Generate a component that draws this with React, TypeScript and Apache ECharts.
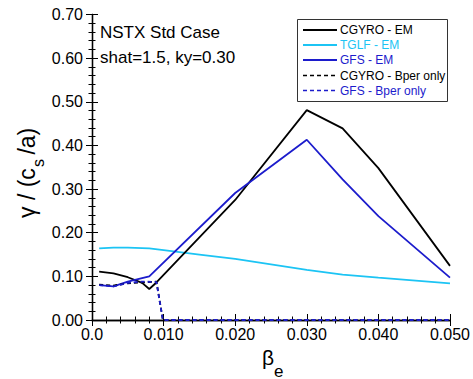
import React, { useEffect, useRef } from "react";
import * as echarts from "echarts";

const cgyroEmBeta = [0.001, 0.003, 0.005, 0.007, 0.008, 0.009, 0.02, 0.03, 0.035, 0.04, 0.05];
const cgyroEmGamma = [0.111, 0.107, 0.098, 0.085, 0.071, 0.086, 0.275, 0.481, 0.439, 0.348, 0.124];

const tglfEmBeta = [0.001, 0.003, 0.005, 0.008, 0.01, 0.015, 0.02, 0.03, 0.035, 0.04, 0.05];
const tglfEmGamma = [0.164, 0.166, 0.166, 0.164, 0.16, 0.15, 0.14, 0.115, 0.104, 0.097, 0.084];

const gfsEmBeta = [0.001, 0.003, 0.005, 0.008, 0.02, 0.03, 0.035, 0.04, 0.05];
const gfsEmGamma = [0.08, 0.077, 0.088, 0.1, 0.291, 0.413, 0.322, 0.238, 0.097];

const cgyroBperBeta = [0.001, 0.003, 0.005, 0.007, 0.009, 0.0099, 0.05];
const cgyroBperGamma = [0.081, 0.079, 0.084, 0.086, 0.088, 0.0, 0.0];

const gfsBperBeta = [0.001, 0.003, 0.005, 0.007, 0.009, 0.0099, 0.05];
const gfsBperGamma = [0.08, 0.077, 0.085, 0.088, 0.087, 0.0, 0.0];

const seriesNames = ["CGYRO - EM", "TGLF - EM", "GFS - EM", "CGYRO - Bper only", "GFS - Bper only"];
const seriesColors = ["#000000", "#1cc4f4", "#1c1ccc", "#000000", "#1c1ccc"];
const seriesDashed = [false, false, false, true, true];

const FONT = "Liberation Sans, Arial, Helvetica, sans-serif";

function pairs(xs: number[], ys: number[]) {
  return xs.map((x, i) => [x, ys[i]]);
}

export default function App() {
  const ref = useRef<HTMLDivElement>(null);
  useEffect(() => {
    document.body.style.margin = "0";
    if (!ref.current) return;
    const chart = echarts.init(ref.current, null, { renderer: "svg" });
    const axisCommon = {
      axisLine: { show: true, lineStyle: { color: "#000", width: 1.3 } },
      splitLine: { show: false },
      axisTick: { show: true, inside: true, length: 6, lineStyle: { color: "#000", width: 1 } },
      minorTick: { show: true, splitNumber: 5, length: 3.5, lineStyle: { color: "#000", width: 1 } },
    };
    const datasets = [
      pairs(cgyroEmBeta, cgyroEmGamma),
      pairs(tglfEmBeta, tglfEmGamma),
      pairs(gfsEmBeta, gfsEmGamma),
      pairs(cgyroBperBeta, cgyroBperGamma),
      pairs(gfsBperBeta, gfsBperGamma),
    ];
    const order = [1, 0, 2, 3, 4];

    const legendX = 297;
    const legendY = 19;
    const rowY = [30, 45, 60, 75.5, 90.5];
    const legendGraphics: any[] = [
      {
        type: "rect",
        shape: { x: legendX + 0.5, y: legendY + 0.5, width: 150, height: 82 },
        style: { fill: "#fff", stroke: "#333", lineWidth: 1 },
        z: 10,
      },
    ];
    seriesNames.forEach((n, i) => {
      legendGraphics.push({
        type: "line",
        shape: { x1: 303, y1: rowY[i], x2: 337, y2: rowY[i] },
        style: {
          stroke: seriesColors[i],
          lineWidth: seriesDashed[i] ? 1.6 : 2,
          lineDash: seriesDashed[i] ? [4, 3] : null,
        },
        z: 11,
      });
      legendGraphics.push({
        type: "text",
        x: 340,
        y: rowY[i],
        style: {
          text: n,
          fontSize: 12,
          fontFamily: FONT,
          fill: seriesColors[i],
          align: "left",
          verticalAlign: "middle",
        },
        z: 11,
      });
    });

    chart.setOption({
      animation: false,
      backgroundColor: "#fff",
      grid: { left: 92, right: 21, top: 14.5, bottom: 59, containLabel: false },
      xAxis: [
        {
          type: "value",
          min: 0,
          max: 0.05,
          interval: 0.01,
          ...axisCommon,
          axisLabel: {
            margin: 6,
            fontSize: 16,
            color: "#000",
            fontFamily: FONT,
            formatter: (v: number) => (v === 0 ? "0.0" : v.toFixed(3)),
          },
        },
        {
          type: "value",
          position: "top",
          min: 0,
          max: 0.05,
          interval: 0.01,
          ...axisCommon,
          axisLabel: { show: false },
        },
      ],
      yAxis: [
        {
          type: "value",
          min: 0,
          max: 0.7,
          interval: 0.1,
          ...axisCommon,
          axisLabel: {
            margin: 9,
            fontSize: 16,
            color: "#000",
            fontFamily: FONT,
            formatter: (v: number) => v.toFixed(2),
          },
        },
        {
          type: "value",
          position: "right",
          min: 0,
          max: 0.7,
          interval: 0.1,
          ...axisCommon,
          axisLabel: { show: false },
        },
      ],
      graphic: [
        {
          type: "text",
          x: 100,
          y: 32,
          style: { text: "NSTX Std Case", fontSize: 17, fontFamily: FONT, fill: "#000", align: "left", verticalAlign: "middle" },
        },
        {
          type: "text",
          x: 100,
          y: 57,
          style: { text: "shat=1.5, ky=0.30", fontSize: 17, fontFamily: FONT, fill: "#000", align: "left", verticalAlign: "middle" },
        },
        {
          type: "group",
          x: 27,
          y: 218,
          rotation: Math.PI / 2,
          children: [
            {
              type: "text",
              x: 0,
              y: 0,
              style: { text: "γ / (c", fontSize: 23, fontFamily: FONT, fill: "#000", align: "left", verticalAlign: "middle" },
            },
            {
              type: "text",
              x: 51,
              y: 11,
              style: { text: "s", fontSize: 16, fontFamily: FONT, fill: "#000", align: "left", verticalAlign: "middle" },
            },
            {
              type: "text",
              x: 57,
              y: 0,
              style: { text: " /a)", fontSize: 23, fontFamily: FONT, fill: "#000", align: "left", verticalAlign: "middle" },
            },
          ],
        },
        {
          type: "text",
          x: 262,
          y: 357,
          style: { text: "β", fontSize: 21, fontFamily: FONT, fill: "#000", align: "left", verticalAlign: "middle" },
        },
        {
          type: "text",
          x: 274,
          y: 371,
          style: { text: "e", fontSize: 17, fontFamily: FONT, fill: "#000", align: "left", verticalAlign: "middle" },
        },
        ...legendGraphics,
      ],
      series: order.map((i) => ({
        name: seriesNames[i],
        type: "line",
        xAxisIndex: 0,
        yAxisIndex: 0,
        data: datasets[i],
        showSymbol: false,
        symbol: "none",
        clip: false,
        z: 2,
        lineStyle: {
          color: seriesColors[i],
          width: 1.8,
          type: seriesDashed[i] ? [4, 3] : "solid",
        },
        itemStyle: { color: seriesColors[i] },
      })),
    });
    return () => chart.dispose();
  }, []);
  return <div ref={ref} style={{ width: 473, height: 379 }} />;
}
